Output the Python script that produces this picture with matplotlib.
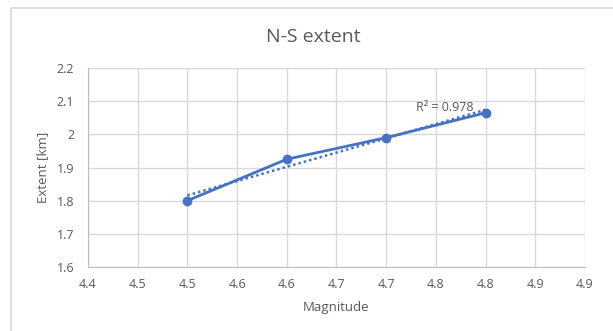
import numpy as np
import matplotlib.pyplot as plt
from matplotlib.patches import Rectangle

# data
magnitude = [4.5, 4.6, 4.7, 4.8]
extent = [1.8, 1.925, 1.99, 2.065]
x_ticks = np.arange(4.4, 4.9001, 0.05)
y_ticks = [1.6, 1.7, 1.8, 1.9, 2.0, 2.1, 2.2]
r2_label = 'R² = 0.978'

blue = '#4472C4'
txt = '#595959'
grid = '#d9d9d9'

plt.rcParams['font.family'] = ['Open Sans', 'DejaVu Sans']

fig = plt.figure(figsize=(6.13, 3.31), dpi=100)
fig.patches.append(Rectangle((11 / 613, -0.1), 1.1, (331 - 8) / 331 + 0.1,
                             transform=fig.transFigure, fill=False,
                             edgecolor=grid, lw=1.2))

ax = fig.add_axes([88 / 613, 64 / 331, 497 / 613, 199 / 331])

# linear trendline
coef = np.polyfit(magnitude, extent, 1)
fit = np.polyval(coef, magnitude)

ax.plot(magnitude, fit, color=blue, lw=1.8, ls=(0, (1, 1.2)), zorder=3)
ax.plot(magnitude, extent, color=blue, lw=2, marker='o', ms=6, zorder=4)
ax.text(4.73, 2.08, r2_label, color=txt, fontsize=9,
        ha='left', va='center')

ax.set_xlim(4.4, 4.9)
ax.set_ylim(1.6, 2.2)
ax.set_xticks(x_ticks)
ax.set_xticklabels(['%.1f' % (round(v * 20) / 20 + 1e-6) for v in x_ticks])
ax.set_yticks(y_ticks)
ax.set_yticklabels(['%g' % v for v in y_ticks])
ax.grid(True, color=grid, lw=1)
ax.set_axisbelow(True)
for s in ['top', 'right']:
    ax.spines[s].set_visible(False)
for s in ['left', 'bottom']:
    ax.spines[s].set_color('#bfbfbf')
ax.tick_params(length=0, colors=txt, labelsize=9)
ax.tick_params(axis='x', pad=8)
ax.tick_params(axis='y', pad=10)

ax.set_xlabel('Magnitude', color=txt, fontsize=9.5, labelpad=7)
ax.set_ylabel('Extent [km]', color=txt, fontsize=9.5, labelpad=5)
fig.text(313 / 613, 1 - 37 / 331, 'N-S extent', color=txt, fontsize=14,
         ha='center', va='center')

fig.savefig('out.png', dpi=100)
